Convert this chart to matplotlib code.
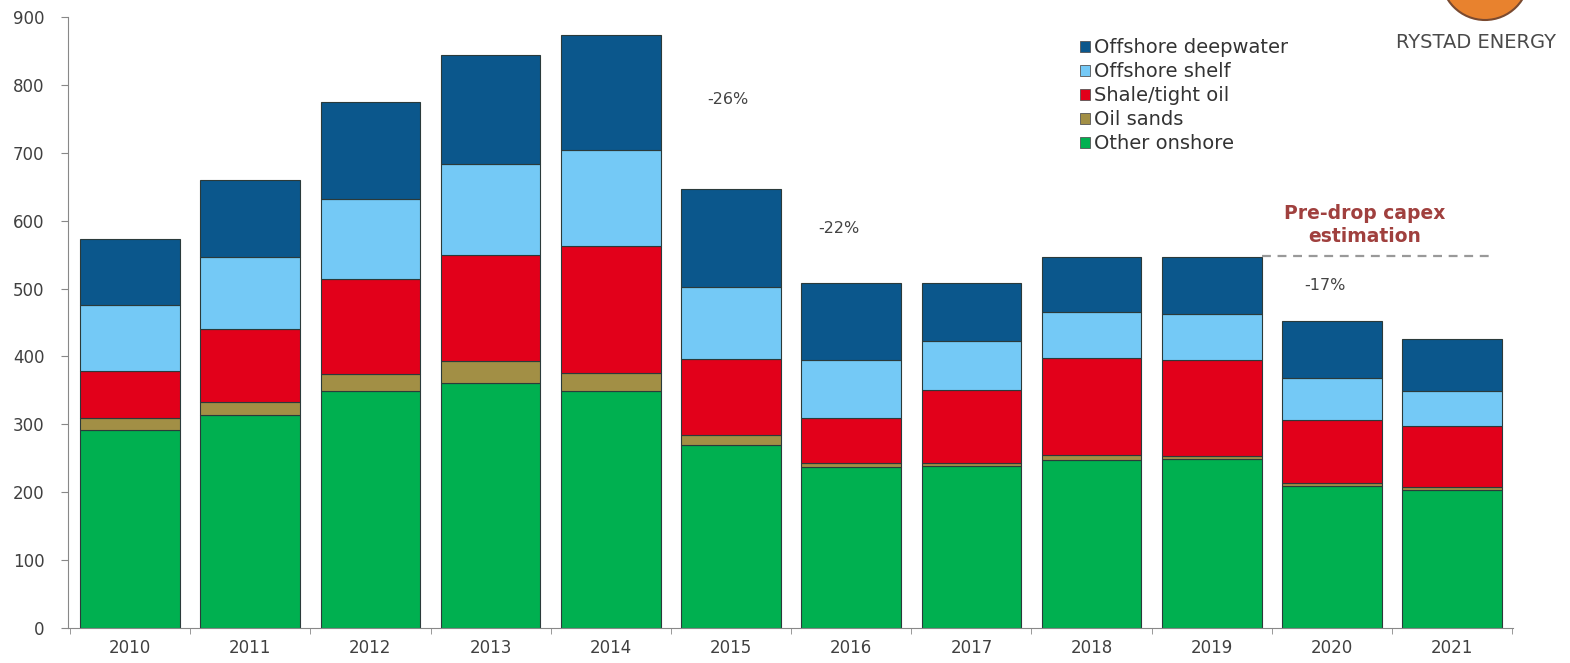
import numpy as np
import matplotlib
matplotlib.use("Agg")
import matplotlib.pyplot as plt
from matplotlib.patches import Patch, Ellipse

plt.rcParams["font.family"] = ["DejaVu Sans"]

# capex by segment, billion USD
years = ["2010", "2011", "2012", "2013", "2014", "2015",
         "2016", "2017", "2018", "2019", "2020", "2021"]
other_onshore = [291, 314, 349, 361, 349, 270, 237, 238, 248, 249, 209, 203]
oil_sands = [18, 19, 25, 33, 26, 14, 6, 5, 7, 5, 4, 4]
shale_tight = [69, 108, 140, 156, 187, 112, 66, 107, 142, 141, 93, 91]
offshore_shelf = [98, 106, 118, 134, 142, 107, 86, 72, 69, 67, 62, 51]
offshore_deep = [97, 113, 143, 160, 169, 144, 113, 86, 80, 85, 84, 77]

segments = ["Other onshore", "Oil sands", "Shale/tight oil",
            "Offshore shelf", "Offshore deepwater"]
colors = ["#00b050", "#a28f45", "#e2001a", "#74c9f6", "#0b578c"]

pre_drop_level = 548
drops = [("-26%", 4.97, 778), ("-22%", 5.9, 589), ("-17%", 9.94, 505)]

fig = plt.figure(figsize=(15.7, 6.63), dpi=100)
ax = fig.add_axes([0.0433, 0.0528, 0.9204, 0.9216])

x = np.arange(len(years))
bottom = np.zeros(len(years))
for name, vals, c in zip(segments,
                         [other_onshore, oil_sands, shale_tight, offshore_shelf, offshore_deep],
                         colors):
    ax.bar(x, vals, 0.83, bottom=bottom, color=c, edgecolor="#2b3a3a",
           linewidth=0.8, label=name)
    bottom += np.array(vals)

ax.set_xlim(-0.516, 11.506)
ax.set_ylim(0, 900)
ax.set_yticks(np.arange(0, 901, 100))
ax.set_xticks(x)
ax.set_xticklabels(years)
ax.set_xticks(np.arange(-0.5, len(years), 1), minor=True)
ax.tick_params(axis="x", which="major", length=0, pad=8, labelsize=12, labelcolor="#404040")
ax.tick_params(axis="x", which="minor", length=4, color="#888888")
ax.tick_params(axis="y", length=5, color="#888888", labelsize=12, labelcolor="#404040", pad=12)
for s in ["top", "right"]:
    ax.spines[s].set_visible(False)
for s in ["left", "bottom"]:
    ax.spines[s].set_color("#888888")

# legend, deepwater on top
handles = [Patch(facecolor=c, edgecolor="#555555", linewidth=0.6) for c in colors][::-1]
leg = ax.legend(handles, segments[::-1], loc="upper left",
                bbox_to_anchor=(1080 / 1570, 1 - 38 / 663), bbox_transform=fig.transFigure,
                frameon=False, fontsize=14, handlelength=0.5, handleheight=0.5,
                handletextpad=0.2, labelspacing=0.26, borderaxespad=0, borderpad=0)
for t in leg.get_texts():
    t.set_color("#333333")

# pre-drop estimate marker
ax.hlines(pre_drop_level, 9.42, 11.36, colors="#999999", linestyles=(0, (4, 3)), linewidth=1.6)
ax.text(10.27, 594, "Pre-drop capex\nestimation", ha="center", va="center",
        fontsize=13.5, fontweight="bold", color="#a0403e", linespacing=1.25)

for label, xp, yp in drops:
    ax.text(xp, yp, label, ha="center", va="center", fontsize=11.5, color="#444444")

# logo
fig.patches.append(Ellipse((1485 / 1570, 1 + 24 / 663), 88 / 1570, 88 / 663,
                           transform=fig.transFigure, facecolor="#e8822e",
                           edgecolor="#7a4a30", linewidth=1.5))
fig.text(1476 / 1570, 1 - 43 / 663, "RYSTAD ENERGY", ha="center", va="center",
         fontsize=14, color="#4a4a4a")

fig.savefig("out.png", dpi=100)
